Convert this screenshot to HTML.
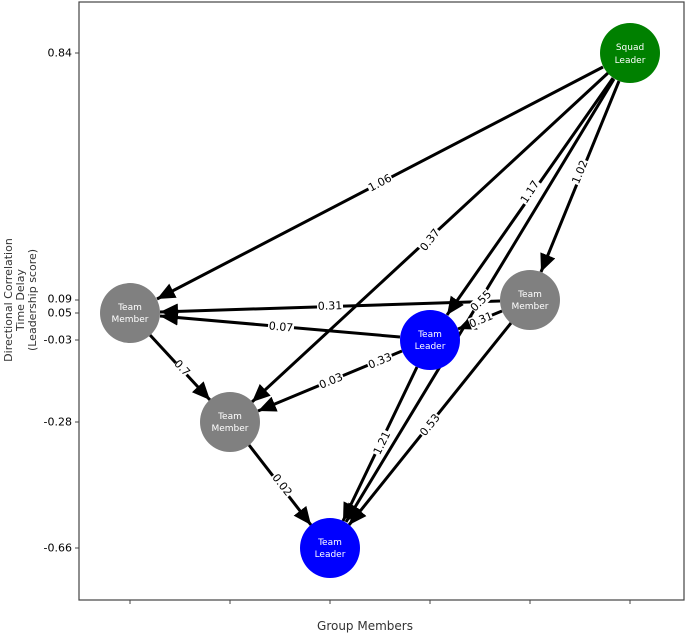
<!DOCTYPE html>
<html><head><meta charset="utf-8"><style>
body{margin:0;background:#fff;width:685px;height:635px;overflow:hidden}
svg text{font-family:"DejaVu Sans","Liberation Sans",sans-serif}
.l{font-size:11px;fill:#000;text-anchor:middle;dominant-baseline:central}
.n{font-size:9px;fill:#fff;text-anchor:middle}
.t{font-size:11px;fill:#000;text-anchor:end;dominant-baseline:central}
</style></head><body>
<svg width="685" height="635" xmlns="http://www.w3.org/2000/svg">
<defs><marker id="a" markerUnits="userSpaceOnUse" markerWidth="20" markerHeight="16" refX="18" refY="8" orient="auto"><path d="M0,0 L18,8 L0,16 z" fill="#000"/></marker></defs>
<rect x="79" y="2" width="605" height="598" fill="none" stroke="#444" stroke-width="1.2"/>
<g stroke="#444" stroke-width="1">
<line x1="75" y1="53" x2="79" y2="53"/><line x1="75" y1="300" x2="79" y2="300"/><line x1="75" y1="313" x2="79" y2="313"/><line x1="75" y1="340" x2="79" y2="340"/><line x1="75" y1="422" x2="79" y2="422"/><line x1="75" y1="548" x2="79" y2="548"/>
<line x1="130" y1="600" x2="130" y2="604"/><line x1="230" y1="600" x2="230" y2="604"/><line x1="330" y1="600" x2="330" y2="604"/><line x1="430" y1="600" x2="430" y2="604"/><line x1="530" y1="600" x2="530" y2="604"/><line x1="630" y1="600" x2="630" y2="604"/>
</g>
<text class="t" x="72" y="53">0.84</text><text class="t" x="72" y="299">0.09</text><text class="t" x="72" y="313">0.05</text><text class="t" x="72" y="340">-0.03</text><text class="t" x="72" y="422">-0.28</text><text class="t" x="72" y="548">-0.66</text>
<text x="365" y="630" font-size="12" text-anchor="middle" fill="#333">Group Members</text>
<g transform="translate(20,300) rotate(-90)" font-size="11" fill="#333" text-anchor="middle"><text x="0" y="-8">Directional Correlation</text><text x="0" y="4">Time Delay</text><text x="0" y="16">(Leadership score)</text></g>
<g stroke="#000" stroke-width="3" marker-end="url(#a)">
<line x1="603" y1="67" x2="157" y2="299"/>
<line x1="608" y1="73" x2="252" y2="402"/>
<line x1="613" y1="78" x2="447" y2="315"/>
<line x1="619" y1="81" x2="541" y2="272"/>
<line x1="614" y1="79" x2="346" y2="522"/>
<line x1="500" y1="301" x2="160" y2="312"/>
<line x1="400" y1="337" x2="160" y2="316"/>
<line x1="502" y1="311" x2="458" y2="329"/>
<line x1="402" y1="351" x2="258" y2="411"/>
<line x1="150" y1="335" x2="210" y2="400"/>
<line x1="249" y1="445" x2="311" y2="525"/>
<line x1="417" y1="367" x2="343" y2="521"/>
<line x1="511" y1="323" x2="349" y2="525"/>
</g>
<g>
<circle cx="630" cy="53" r="30" fill="#008000"/>
<circle cx="130" cy="313" r="30" fill="#808080"/>
<circle cx="530" cy="300" r="30" fill="#808080"/>
<circle cx="430" cy="340" r="30" fill="#0000ff"/>
<circle cx="230" cy="422" r="30" fill="#808080"/>
<circle cx="330" cy="548" r="30" fill="#0000ff"/>
</g>
<text class="n" x="630" y="50">Squad</text><text class="n" x="630" y="63">Leader</text>
<text class="n" x="130" y="310">Team</text><text class="n" x="130" y="322">Member</text>
<text class="n" x="530" y="297">Team</text><text class="n" x="530" y="309">Member</text>
<text class="n" x="430" y="337">Team</text><text class="n" x="430" y="349">Leader</text>
<text class="n" x="230" y="419">Team</text><text class="n" x="230" y="431">Member</text>
<text class="n" x="330" y="545">Team</text><text class="n" x="330" y="557">Leader</text>
<g class="l">
<g transform="translate(380,183) rotate(-27.5)"><rect x="-13" y="-7" width="26" height="14" fill="#fff"/><text class="l">1.06</text></g>
<g transform="translate(430,240) rotate(-52)"><rect x="-13" y="-7" width="26" height="14" fill="#fff"/><text class="l">0.37</text></g>
<g transform="translate(530,192) rotate(-57)"><rect x="-13" y="-7" width="26" height="14" fill="#fff"/><text class="l">1.17</text></g>
<g transform="translate(580,172) rotate(-68)"><rect x="-13" y="-7" width="26" height="14" fill="#fff"/><text class="l">1.02</text></g>
<g transform="translate(481,301) rotate(-45)"><rect x="-12" y="-6" width="24" height="12" fill="#fff"/><text class="l">0.55</text></g>
<g transform="translate(481,320) rotate(-22)"><rect x="-12" y="-6" width="24" height="12" fill="#fff"/><text class="l">0.31</text></g>
<g transform="translate(330,306) rotate(-2)"><rect x="-13" y="-7" width="26" height="14" fill="#fff"/><text class="l">0.31</text></g>
<g transform="translate(281,327) rotate(5)"><rect x="-13" y="-7" width="26" height="14" fill="#fff"/><text class="l">0.07</text></g>
<g transform="translate(380,361) rotate(-22)"><rect x="-13" y="-7" width="26" height="14" fill="#fff"/><text class="l">0.33</text></g>
<g transform="translate(331,381) rotate(-22)"><rect x="-13" y="-7" width="26" height="14" fill="#fff"/><text class="l">0.03</text></g>
<g transform="translate(182,368) rotate(47)"><rect x="-8" y="-7" width="16" height="14" fill="#fff"/><text class="l">0.7</text></g>
<g transform="translate(282,485) rotate(52)"><rect x="-13" y="-7" width="26" height="14" fill="#fff"/><text class="l">0.02</text></g>
<g transform="translate(382,443) rotate(-64)"><rect x="-13" y="-7" width="26" height="14" fill="#fff"/><text class="l">1.21</text></g>
<g transform="translate(430,425) rotate(-51)"><rect x="-13" y="-7" width="26" height="14" fill="#fff"/><text class="l">0.53</text></g>
</g>
</svg>
</body></html>
